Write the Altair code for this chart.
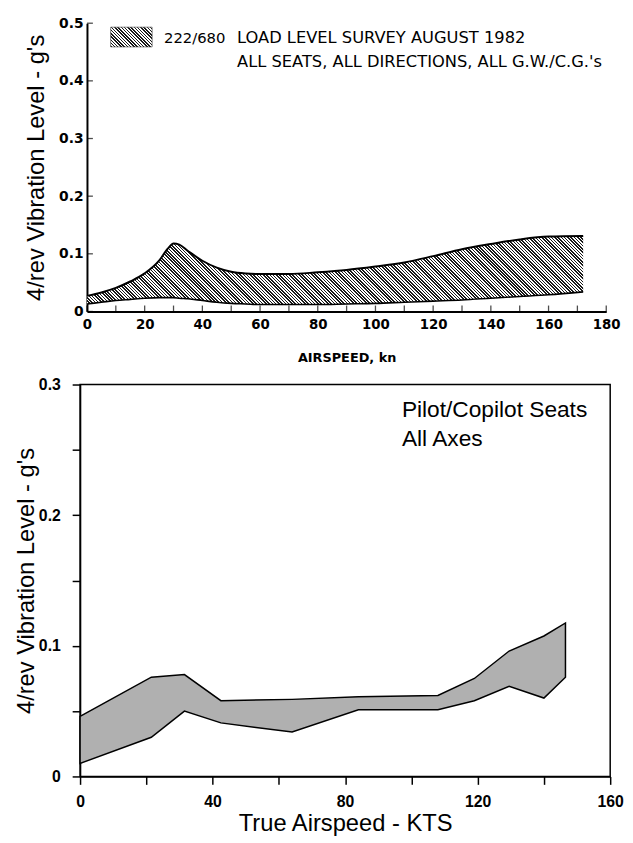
import altair as alt
import pandas as pd

# ---------------- data: top panel (222/680 load level survey) ----------------
top_speed = [0, 5, 10, 15, 20, 25, 28, 30, 32, 35, 40, 45, 50, 55, 60, 70, 80, 90,
             100, 110, 120, 130, 140, 150, 160, 172]
top_upper = [0.027, 0.033, 0.041, 0.052, 0.066, 0.088, 0.109, 0.118, 0.116, 0.105,
             0.088, 0.076, 0.069, 0.066, 0.065, 0.065, 0.068, 0.072, 0.078, 0.085,
             0.096, 0.108, 0.117, 0.125, 0.130, 0.131]
top_lower = [0.013, 0.016, 0.019, 0.021, 0.023, 0.024, 0.024, 0.024, 0.023, 0.022,
             0.019, 0.016, 0.014, 0.013, 0.012, 0.012, 0.012, 0.013, 0.014, 0.016,
             0.018, 0.020, 0.023, 0.026, 0.029, 0.034]
top_x_ticks = list(range(0, 181, 10))
top_x_labels = list(range(0, 181, 20))
top_y_ticks = [0, 0.1, 0.2, 0.3, 0.4, 0.5]
legend_lines = ["222/680", "LOAD LEVEL SURVEY AUGUST 1982",
                "ALL SEATS, ALL DIRECTIONS, ALL G.W./C.G.'s"]

# ---------------- data: bottom panel (pilot/copilot seats) ----------------
bot_speed = [0, 21.5, 31.5, 42.5, 64, 84, 108, 119, 129.5, 140, 146.5]
bot_upper = [0.046, 0.076, 0.078, 0.058, 0.059, 0.061, 0.062, 0.075, 0.096, 0.1075, 0.1175]
bot_lower = [0.010, 0.030, 0.050, 0.041, 0.034, 0.051, 0.051, 0.058, 0.069, 0.060, 0.076]
bot_x_ticks = list(range(0, 161, 20))
bot_y_ticks = [0, 0.05, 0.1, 0.15, 0.2, 0.25, 0.3]
note_lines = ["Pilot/Copilot Seats", "All Axes"]

Y_TITLE = "4/rev Vibration Level - g's"

# ---------------- sizes ----------------
SHIFT = 7                 # top panel's axes sit a little right of the bottom panel's
TW, TH = 526, 292         # top plotting extent
BW, BH = 537, 397


def hatch(w, h, period, dark_frac, dark="#1a1a1a", light="#ffffff"):
    """Diagonal '\\' stripes as a linear gradient over a w x h bounding box."""
    total = w + h
    n = int(total / period) + 1
    stops = []
    for i in range(n):
        a = min(i * period / total, 1.0)
        b = min((i + dark_frac) * period / total, 1.0)
        c = min((i + 1) * period / total, 1.0)
        stops += [
            alt.GradientStop(offset=a, color=dark),
            alt.GradientStop(offset=b, color=dark),
            alt.GradientStop(offset=b, color=light),
            alt.GradientStop(offset=c, color=light),
        ]
    lam = total / (w * w + h * h)
    return alt.LinearGradient(gradient="linear", stops=stops,
                              x1=0, y1=1, x2=lam * w, y2=1 - lam * h)


# ================= top panel =================
top_df = pd.DataFrame({"speed": top_speed, "upper": top_upper, "lower": top_lower})
band_w = TW * (max(top_speed) - min(top_speed)) / 180
band_h = TH * (max(top_upper) - min(top_lower)) / 0.5

xs_top = alt.Scale(domain=[0, 180], range=[SHIFT, SHIFT + TW], nice=False, zero=False)
ys_top = alt.Scale(domain=[0, 0.5], nice=False)

x_axis_top = alt.Axis(values=top_x_labels, ticks=False, grid=False, domainColor="black",
                      domainWidth=2, labelFont="DejaVu Sans", labelFontWeight="bold",
                      labelFontSize=13.5, labelColor="black", labelPadding=6,
                      labelFlush=False,
                      title="AIRSPEED, kn", titleFont="DejaVu Sans", titleFontWeight="bold",
                      titleFontSize=13, titleColor="black", titlePadding=21)
y_axis_top = alt.Axis(values=top_y_ticks, format="~g", ticks=False, grid=False,
                      offset=-SHIFT, labelFlush=False,
                      domainColor="black", domainWidth=2, labelFont="DejaVu Sans",
                      labelFontWeight="bold", labelFontSize=14, labelColor="black",
                      labelPadding=4, title=Y_TITLE, titleFont="Liberation Sans",
                      titleFontWeight="normal", titleFontSize=24, titleColor="black",
                      titleAngle=270, titleAlign="center", titleBaseline="middle",
                      titleX=-51, titleY=TH / 2)

top_band = alt.Chart(top_df).mark_area(
    interpolate="monotone", fill=hatch(band_w, band_h, 3.3, 0.47)
).encode(
    x=alt.X("speed:Q", scale=xs_top, axis=x_axis_top),
    y=alt.Y("upper:Q", scale=ys_top, axis=y_axis_top),
    y2="lower:Q",
)
top_up_line = alt.Chart(top_df).mark_line(interpolate="monotone", color="black",
                                          strokeWidth=2).encode(x="speed:Q", y="upper:Q")
top_lo_line = alt.Chart(top_df).mark_line(interpolate="monotone", color="black",
                                          strokeWidth=1.6).encode(x="speed:Q", y="lower:Q")

top_xt = alt.Chart(pd.DataFrame({"t": top_x_ticks})).mark_tick(
    orient="vertical", size=6, thickness=1.3, color="black", yOffset=-3
).encode(x="t:Q", y=alt.datum(0))
top_yt = alt.Chart(pd.DataFrame({"t": top_y_ticks})).mark_tick(
    orient="horizontal", size=6, thickness=1.3, color="black", xOffset=3
).encode(y="t:Q", x=alt.datum(0))

swatch = alt.Chart(pd.DataFrame({"k": [legend_lines[0]]})).mark_rect(
    fill=hatch(42, 20, 3.3, 0.47), stroke="#333", strokeWidth=0.6
).encode(x=alt.value(31), x2=alt.value(73), y=alt.value(4), y2=alt.value(24))

leg_font = dict(align="left", baseline="middle", font="DejaVu Sans", color="black")
leg1 = alt.Chart(pd.DataFrame({"t": [legend_lines[0]]})).mark_text(
    fontSize=15, **leg_font).encode(text="t:N", x=alt.value(85), y=alt.value(15))
leg2 = alt.Chart(pd.DataFrame({"t": [legend_lines[1]]})).mark_text(
    fontSize=16.5, **leg_font).encode(text="t:N", x=alt.value(159), y=alt.value(15))
leg3 = alt.Chart(pd.DataFrame({"t": [legend_lines[2]]})).mark_text(
    fontSize=16.5, **leg_font).encode(text="t:N", x=alt.value(159), y=alt.value(39))

top = alt.layer(top_band, top_up_line, top_lo_line, top_xt, top_yt, swatch,
                leg1, leg2, leg3).properties(
    width=TW + SHIFT, height=TH, view=alt.ViewBackground(stroke="transparent"))

# ================= bottom panel =================
bot_df = pd.DataFrame({"speed": bot_speed, "upper": bot_upper, "lower": bot_lower})
xs_bot = alt.Scale(domain=[0, 160], nice=False, zero=False)
ys_bot = alt.Scale(domain=[0, 0.3], nice=False)

x_axis_bot = alt.Axis(values=bot_x_ticks, labelExpr="datum.value % 40 == 0 ? datum.label : ''",
                      tickSize=8, tickColor="black", tickWidth=1.5, grid=False,
                      labelFlush=False,
                      domainColor="black", domainWidth=1.5, labelFont="Liberation Sans",
                      labelFontWeight="bold", labelFontSize=16, labelColor="black",
                      labelPadding=9, title="True Airspeed - KTS",
                      titleFont="Liberation Sans", titleFontWeight="normal",
                      titleFontSize=24, titleColor="black", titlePadding=3)
y_axis_bot = alt.Axis(values=bot_y_ticks, format="~g",
                      labelExpr="round(datum.value * 20) % 2 == 0 ? datum.label : ''",
                      tickSize=8, tickColor="black", tickWidth=1.5, grid=False,
                      labelFlush=False,
                      domainColor="black", domainWidth=1.5, labelFont="Liberation Sans",
                      labelFontWeight="bold", labelFontSize=16, labelColor="black",
                      labelPadding=12, title=Y_TITLE, titleFont="Liberation Sans",
                      titleFontWeight="normal", titleFontSize=24, titleColor="black",
                      titleAngle=270, titleAlign="center", titleBaseline="middle",
                      titleX=-54, titleY=BH / 2)

bot_band = alt.Chart(bot_df).mark_area(
    interpolate="linear", fill="#b0b0b0", stroke="black", strokeWidth=1.5
).encode(
    x=alt.X("speed:Q", scale=xs_bot, axis=x_axis_bot),
    y=alt.Y("upper:Q", scale=ys_bot, axis=y_axis_bot),
    y2="lower:Q",
)

note_font = dict(align="left", baseline="middle", font="Liberation Sans", fontSize=23,
                 color="black")
note1 = alt.Chart(pd.DataFrame({"t": [note_lines[0]]})).mark_text(**note_font).encode(
    text="t:N", x=alt.value(326), y=alt.value(26))
note2 = alt.Chart(pd.DataFrame({"t": [note_lines[1]]})).mark_text(**note_font).encode(
    text="t:N", x=alt.value(326), y=alt.value(55))

bottom = alt.layer(bot_band, note1, note2).properties(
    width=BW, height=BH,
    view=alt.ViewBackground(stroke="black", strokeWidth=1.5))

chart = alt.concat(top, bottom, columns=1, align="none", spacing=11).properties(
    padding={"left": 6, "top": 2, "right": 0, "bottom": 0})

chart.save("out.html", embed_options={"renderer": "svg", "actions": False})
